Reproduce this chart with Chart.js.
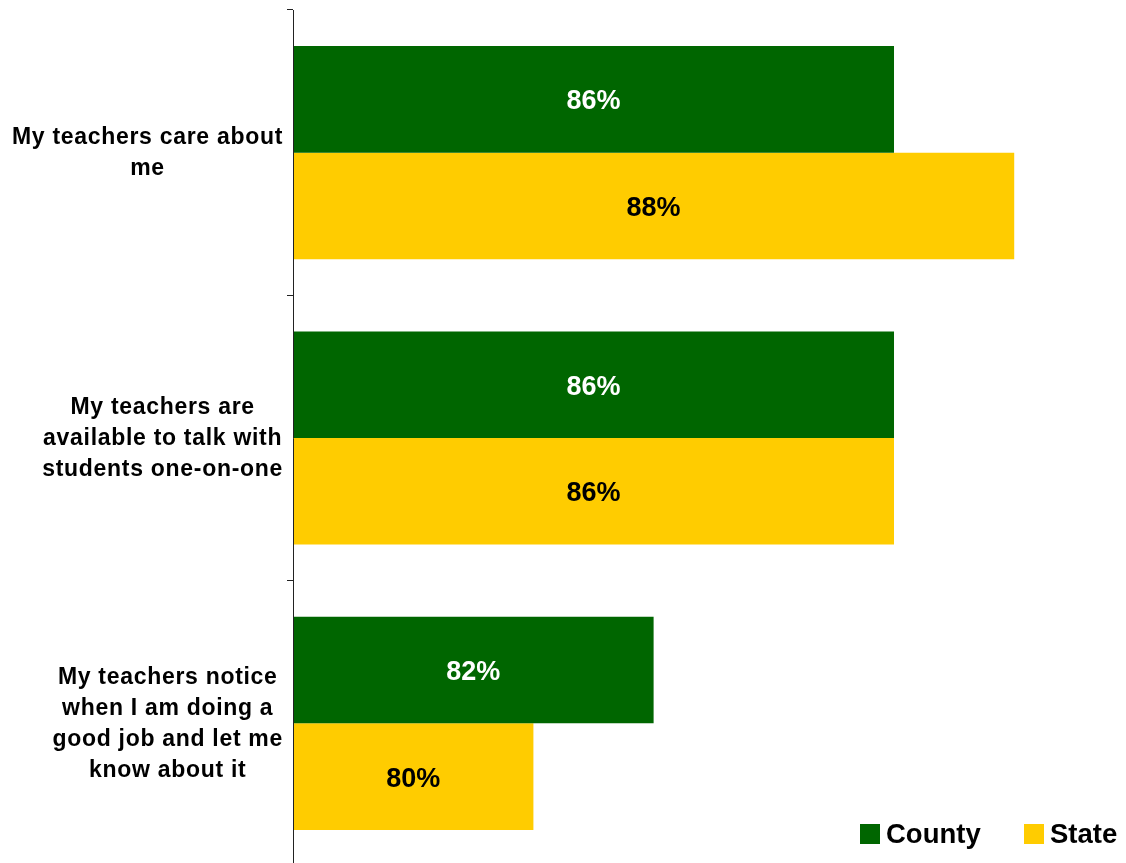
<!DOCTYPE html>
<html>
<head>
<meta charset="utf-8">
<script src="https://cdn.jsdelivr.net/npm/chart.js@4.4.1/dist/chart.umd.min.js"></script>
<style>
  html, body { margin: 0; padding: 0; background: #fff; overflow: hidden; }
  #wrap { position: relative; width: 1126px; height: 866px; }
</style>
</head>
<body>
<div id="wrap"><canvas id="myChart"></canvas></div>
<script>
// data
var categories = [
  ["My teachers care about", "me"],
  ["My teachers are", "available to talk with", "students one-on-one"],
  ["My teachers notice", "when I am doing a", "good job and let me", "know about it"]
];
var countyValues = [86, 86, 82];
var stateValues = [88, 86, 80];
var seriesNames = ["County", "State"];

var green = "#006600";
var yellow = "#FFCC00";
var fontFam = "'Liberation Sans', Arial, Helvetica, sans-serif";

// values inside the bars
var barLabels = {
  id: "barLabels",
  afterDatasetsDraw(chart) {
    var ctx = chart.ctx;
    var left = chart.chartArea.left;
    ctx.save();
    ctx.font = "bold 27px " + fontFam;
    ctx.textAlign = "center";
    ctx.textBaseline = "middle";
    chart.data.datasets.forEach(function (ds, i) {
      var meta = chart.getDatasetMeta(i);
      ctx.fillStyle = i == 0 ? "#ffffff" : "#000000";
      meta.data.forEach(function (bar, j) {
        ctx.fillText(ds.data[j] + "%", (left + bar.x) / 2, bar.y + 2.5);
      });
    });
    ctx.restore();
  }
};

// category labels: block right aligned, lines centred in the block
var catLabels = {
  id: "catLabels",
  afterDraw(chart) {
    var ctx = chart.ctx;
    var yScale = chart.scales.y;
    ctx.save();
    ctx.font = "bold 23px " + fontFam;
    ctx.letterSpacing = "0.7px";
    ctx.fillStyle = "#000";
    ctx.textAlign = "center";
    ctx.textBaseline = "alphabetic";
    categories.forEach(function (lines, i) {
      var maxW = 0;
      lines.forEach(function (l) {
        maxW = Math.max(maxW, ctx.measureText(l).width);
      });
      var cx = 283 - maxW / 2;
      var cy = yScale.getPixelForValue(i);
      lines.forEach(function (l, k) {
        ctx.fillText(l, cx, cy + (k - (lines.length - 1) / 2) * 31 + 7);
      });
    });
    ctx.restore();
  }
};

// legend bottom right
var cornerLegend = {
  id: "cornerLegend",
  afterDraw(chart) {
    var ctx = chart.ctx;
    ctx.save();
    ctx.font = "bold 27.5px " + fontFam;
    ctx.textBaseline = "middle";
    ctx.textAlign = "left";
    var items = [
      { x: 860, color: green, name: seriesNames[0] },
      { x: 1024, color: yellow, name: seriesNames[1] }
    ];
    items.forEach(function (it) {
      ctx.fillStyle = it.color;
      ctx.fillRect(it.x, 824, 20, 20);
      ctx.fillStyle = "#000";
      ctx.fillText(it.name, it.x + 26, 835);
    });
    ctx.restore();
  }
};

var ctx = document.getElementById("myChart").getContext("2d");
var myChart = new Chart(ctx, {
  type: "bar",
  plugins: [barLabels, catLabels, cornerLegend],
  data: {
    labels: categories,
    datasets: [
      {
        label: seriesNames[0],
        data: countyValues,
        backgroundColor: green,
        borderWidth: 0,
        categoryPercentage: 0.747,
        barPercentage: 1
      },
      {
        label: seriesNames[1],
        data: stateValues,
        backgroundColor: yellow,
        borderWidth: 0,
        categoryPercentage: 0.747,
        barPercentage: 1
      }
    ]
  },
  options: {
    indexAxis: "y",
    responsive: true,
    maintainAspectRatio: false,
    animation: false,
    layout: { padding: { top: 10, right: 0, bottom: 0, left: 0 } },
    plugins: {
      legend: { display: false },
      tooltip: { enabled: false }
    },
    scales: {
      x: {
        display: false,
        min: 76,
        max: 89.86
      },
      y: {
        afterFit: function (s) { s.width = 293; },
        ticks: { display: false },
        grid: {
          offset: true,
          drawOnChartArea: false,
          drawTicks: true,
          tickLength: 6,
          color: "#222"
        },
        border: { display: true, color: "#222", width: 1, z: 1 }
      }
    }
  }
});
</script>
</body>
</html>
